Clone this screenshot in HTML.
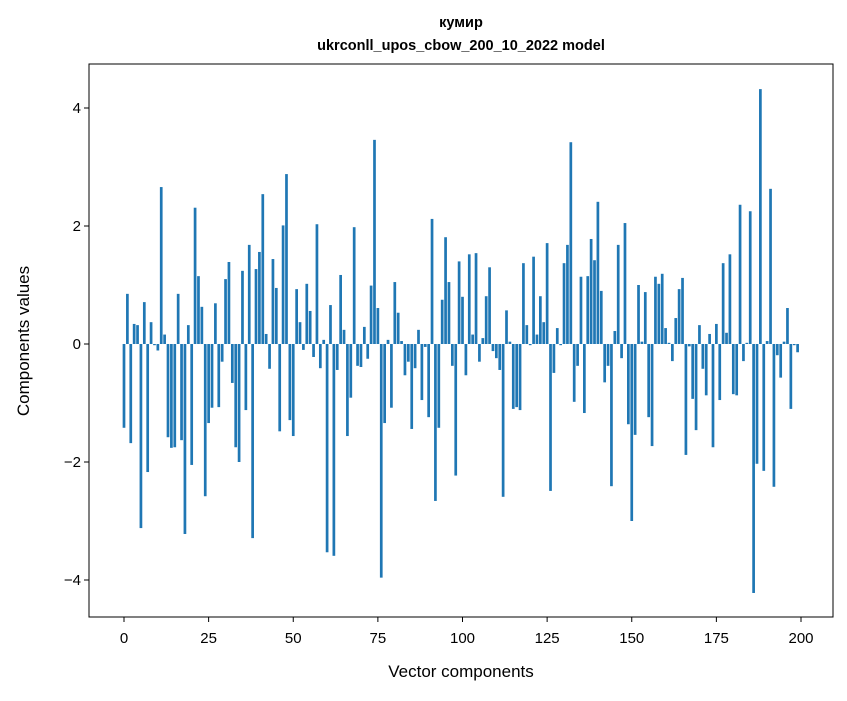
<!DOCTYPE html>
<html><head><meta charset="utf-8"><style>
body{margin:0;background:#fff;}
svg text{font-family:"Liberation Sans","DejaVu Sans",sans-serif;fill:#000;}
</style></head><body>
<svg id="chart" width="847" height="696" xmlns="http://www.w3.org/2000/svg">
<rect width="847" height="696" fill="#fff"/>
<text x="461" y="27" text-anchor="middle" font-size="14.5" font-weight="bold">кумир</text>
<text x="461" y="50" text-anchor="middle" font-size="14.5" font-weight="bold">ukrconll_upos_cbow_200_10_2022 model</text>
<g id="bars"></g>
<g id="xticks"></g>
<g id="yticks"></g>
<rect x="89" y="64" width="744" height="553" fill="none" stroke="#000" stroke-width="1"/>
<text x="461" y="677" text-anchor="middle" font-size="17">Vector components</text>
<text transform="translate(29,341) rotate(-90)" text-anchor="middle" font-size="17">Components values</text>
</svg>
<script>
const values = [-1.42,0.85,-1.68,0.34,0.32,-3.12,0.71,-2.17,0.37,-0.02,
-0.11,2.66,0.16,-1.58,-1.76,-1.75,0.85,-1.63,-3.22,0.32,
-2.05,2.31,1.15,0.63,-2.58,-1.34,-1.08,0.69,-1.07,-0.30,
1.10,1.39,-0.66,-1.75,-2.0,1.24,-1.12,1.68,-3.29,1.27,
1.56,2.54,0.17,-0.42,1.44,0.95,-1.48,2.01,2.88,-1.29,
-1.56,0.93,0.37,-0.10,1.02,0.56,-0.22,2.03,-0.41,0.07,
-3.53,0.66,-3.59,-0.44,1.17,0.24,-1.56,-0.91,1.98,-0.37,
-0.39,0.29,-0.25,0.99,3.46,0.61,-3.96,-1.34,0.07,-1.08,
1.05,0.53,0.05,-0.53,-0.30,-1.44,-0.41,0.24,-0.95,-0.05,
-1.24,2.12,-2.66,-1.42,0.75,1.81,1.05,-0.37,-2.23,1.40,
0.80,-0.53,1.52,0.16,1.54,-0.30,0.10,0.81,1.30,-0.12,
-0.24,-0.44,-2.59,0.57,0.04,-1.10,-1.07,-1.12,1.37,0.32,
-0.02,1.48,0.16,0.81,0.37,1.71,-2.49,-0.49,0.27,-0.02,
1.37,1.68,3.42,-0.98,-0.37,1.14,-1.17,1.15,1.78,1.42,
2.41,0.90,-0.65,-0.37,-2.41,0.22,1.68,-0.24,2.05,-1.36,
-3.0,-1.54,1.0,0.04,0.88,-1.24,-1.73,1.14,1.02,1.19,
0.27,0.02,-0.29,0.44,0.93,1.12,-1.88,-0.04,-0.93,-1.46,
0.32,-0.42,-0.87,0.17,-1.75,0.34,-0.95,1.37,0.19,1.52,
-0.85,-0.87,2.36,-0.29,0.02,2.25,-4.22,-2.03,4.32,-2.15,
0.05,2.63,-2.42,-0.19,-0.57,0.04,0.61,-1.10,-0.02,-0.14];
const xTickValues = [0,25,50,75,100,125,150,175,200];
const yTickValues = [-4,-2,0,2,4];
const yTickLabels = ["\u22124","\u22122","0","2","4"];

const NS="http://www.w3.org/2000/svg";
const px0=124, pxPer=3.385, zeroY=344, pyPer=59;
function xs(v){return px0+v*pxPer;}
function ys(v){return zeroY-v*pyPer;}
const barsG=document.getElementById('bars');
values.forEach((v,i)=>{
  const r=document.createElementNS(NS,'rect');
  
  
  const w=0.8*pxPer;
  r.setAttribute('x',xs(i)-w/2);
  r.setAttribute('width',w);
  r.setAttribute('y',Math.min(ys(v),ys(0)));
  r.setAttribute('height',Math.abs(ys(v)-ys(0)));
  r.setAttribute('fill','#1f77b4');
  barsG.appendChild(r);
});
const xt=document.getElementById('xticks');
xTickValues.forEach(t=>{
  const l=document.createElementNS(NS,'line');
  
  
  l.setAttribute('x1',xs(t));l.setAttribute('x2',xs(t));
  l.setAttribute('y1',617);l.setAttribute('y2',622);
  l.setAttribute('stroke','#000');
  xt.appendChild(l);
  const tx=document.createElementNS(NS,'text');
  
  
  tx.setAttribute('x',xs(t));tx.setAttribute('y',643);
  tx.setAttribute('text-anchor','middle');tx.setAttribute('font-size','15');
  tx.textContent=String(t);
  xt.appendChild(tx);
});
const yt=document.getElementById('yticks');
yTickValues.forEach((t,i)=>{
  const l=document.createElementNS(NS,'line');
  
  
  l.setAttribute('x1',84);l.setAttribute('x2',89);
  l.setAttribute('y1',ys(t));l.setAttribute('y2',ys(t));
  l.setAttribute('stroke','#000');
  yt.appendChild(l);
  const tx=document.createElementNS(NS,'text');
  
  
  tx.setAttribute('x',81);tx.setAttribute('y',ys(t)+5);
  tx.setAttribute('text-anchor','end');tx.setAttribute('font-size','15');
  tx.textContent=yTickLabels[i];
  yt.appendChild(tx);
});
</script>
</body></html>
